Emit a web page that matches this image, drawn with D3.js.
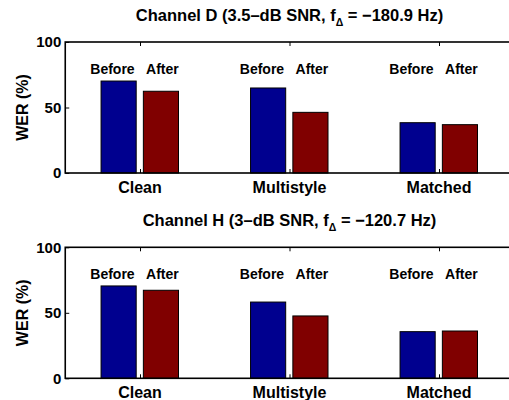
<!DOCTYPE html>
<html>
<head>
<meta charset="utf-8">
<script src="https://cdn.jsdelivr.net/npm/d3@7"></script>
<style>
  html, body { margin: 0; padding: 0; background: #fff; }
  svg { display: block; font-family: "Liberation Sans", Arial, Helvetica, sans-serif; font-weight: bold; }
</style>
</head>
<body>
<svg id="chart" width="509" height="400"></svg>
<script>
// Word error rate before and after frequency-offset correction
const categories = ["Clean", "Multistyle", "Matched"];
const seriesNames = ["Before", "After"];
const channelD_before = [70.2, 64.9, 38.4];
const channelD_after  = [62.4, 46.3, 36.9];
const channelH_before = [70.5, 58.2, 35.6];
const channelH_after  = [67.2, 47.6, 36.1];
const yTicks = [0, 50, 100];

const panels = [
  { name: "Channel D", snr: "3.5", offset: "\u2212180.9", before: channelD_before, after: channelD_after, top: 42 },
  { name: "Channel H", snr: "3",   offset: "\u2212120.7", before: channelH_before, after: channelH_after, top: 247.3 }
];

const colors = ["#00008f", "#800000"];
const svg = d3.select("#chart");
const plotH = 131;

// category axis in MATLAB-style units: categories at 1..3, limits 0.5..3.5
const x = d3.scaleLinear().domain([0.5, 3.5]).range([65.25, 513.75]);
const barOffset = [-0.143, 0.14];
const barW = 0.235;
const labelOffset = [-0.184, 0.15];

panels.forEach(p => {
  const y = d3.scaleLinear().domain([0, 100]).range([p.top + plotH, p.top]);
  const g = svg.append("g");

  // title with subscript delta
  const title = g.append("text")
    .attr("x", (x.range()[0] + x.range()[1]) / 2)
    .attr("y", p.top - 21)
    .attr("text-anchor", "middle")
    .style("font-size", "16.5px");
  title.append("tspan").text(`${p.name} (${p.snr}\u2013dB SNR, f`);
  title.append("tspan").attr("dy", 5).style("font-size", "10.5px").text("\u0394");
  title.append("tspan").attr("dy", -5).text(` = ${p.offset} Hz)`);

  // bars
  const series = [p.before, p.after];
  series.forEach((vals, s) => {
    g.selectAll(null)
      .data(vals)
      .join("rect")
      .attr("x", (d, i) => x(i + 1 + barOffset[s] - barW / 2))
      .attr("width", (d, i) => x(i + 1 + barOffset[s] + barW / 2) - x(i + 1 + barOffset[s] - barW / 2))
      .attr("y", d => y(d))
      .attr("height", d => y(0) - y(d))
      .attr("fill", colors[s])
      .attr("stroke", "#000")
      .attr("stroke-width", 1);
  });

  // Before / After annotations over each group
  categories.forEach((c, i) => {
    seriesNames.forEach((n, s) => {
      g.append("text")
        .attr("x", x(i + 1 + labelOffset[s]))
        .attr("y", p.top + 32)
        .attr("text-anchor", "middle")
        .style("font-size", "14px")
        .text(n);
    });
  });

  // axes frame
  const frame = g.append("g").attr("fill", "none").attr("stroke", "#000").attr("stroke-width", 1.6);
  frame.append("rect")
    .attr("x", x.range()[0]).attr("y", p.top)
    .attr("width", x.range()[1] - x.range()[0]).attr("height", plotH);

  // left and right y axes (inward ticks)
  const yAxis = d3.axisRight(y).tickValues(yTicks).tickSize(4).tickFormat("");
  g.append("g").attr("transform", `translate(${x.range()[0]},0)`).call(yAxis)
    .call(a => a.select(".domain").remove())
    .call(a => a.selectAll("line").attr("stroke-width", 1));
  const yAxisR = d3.axisLeft(y).tickValues(yTicks).tickSize(4).tickFormat("");
  g.append("g").attr("transform", `translate(${x.range()[1]},0)`).call(yAxisR)
    .call(a => a.select(".domain").remove())
    .call(a => a.selectAll("line").attr("stroke-width", 1));

  // y tick labels
  g.selectAll(null).data(yTicks).join("text")
    .attr("x", x.range()[0] - 4)
    .attr("y", d => y(d))
    .attr("dy", "0.36em")
    .attr("text-anchor", "end")
    .style("font-size", "15px")
    .text(d => d);

  // x ticks, bottom and top (inward)
  const xb = d3.axisTop(x).tickValues([1, 2, 3]).tickSize(4).tickFormat("");
  g.append("g").attr("transform", `translate(0,${p.top + plotH})`).call(xb)
    .call(a => a.select(".domain").remove())
    .call(a => a.selectAll("line").attr("stroke-width", 1));
  const xt = d3.axisBottom(x).tickValues([1, 2, 3]).tickSize(4).tickFormat("");
  g.append("g").attr("transform", `translate(0,${p.top})`).call(xt)
    .call(a => a.select(".domain").remove())
    .call(a => a.selectAll("line").attr("stroke-width", 1));

  // category labels
  g.selectAll(null).data(categories).join("text")
    .attr("x", (d, i) => x(i + 1))
    .attr("y", p.top + plotH + 19.5)
    .attr("text-anchor", "middle")
    .style("font-size", "16px")
    .text(d => d);

  // y axis label
  g.append("text")
    .attr("transform", `translate(28,${p.top + plotH / 2}) rotate(-90)`)
    .attr("text-anchor", "middle")
    .style("font-size", "16px")
    .text("WER (%)");
});
</script>
</body>
</html>
